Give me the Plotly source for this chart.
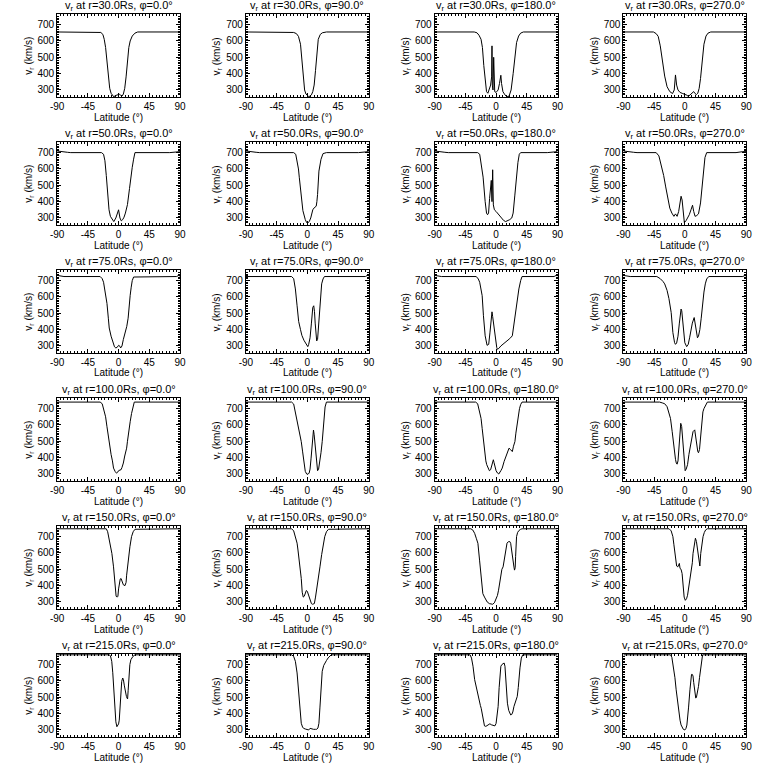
import plotly.graph_objects as go

radii = [30, 50, 75, 100, 150, 215]
phis = [0, 90, 180, 270]
xticks = [-90, -45, 0, 45, 90]
yticks = [300, 400, 500, 600, 700]

# ---- r = 30 Rs ----
lat_30_0 = [-90,-30,-26,-23,-21,-19,-17,-15,-13,-11,-9,-7,-5,-2,1,3,5,7,9,11,13,15,17,20,24,28,90]
v_30_0 = [655,655,652,640,610,560,470,380,310,280,265,258,265,272,274,268,262,275,310,380,470,560,600,630,648,655,655]
lat_30_90 = [-90,-24,-20,-16,-13,-10,-8,-6,-4,-2,0,2,4,6,8,10,12,14,16,19,22,28,90]
v_30_90 = [655,655,652,645,628,580,470,360,300,275,265,260,262,270,290,330,420,520,610,640,650,655,655]
lat_30_180 = [-90,-32,-28,-25,-22,-20,-18,-16,-14,-12,-10,-8,-6.5,-6,-5.5,-4.5,-3.5,-3,-2,0,3,5,6,7,8,10,13,16,19,22,25,28,30,33,36,40,90]
v_30_180 = [655,655,650,635,610,560,450,350,290,280,300,330,380,570,330,300,500,300,290,285,300,340,380,390,340,290,270,258,262,300,400,520,590,630,648,655,655]
lat_30_270 = [-90,-46,-42,-39,-36,-34,-32,-29.5,-26,-22,-18,-15.5,-13.7,-12,-10,-7,-3,0,3,5,8,11,13,15,17,19,21,23,25,28,31,34,38,90]
v_30_270 = [655,655,645,628,570,505,440,385,320,290,278,300,392,330,300,285,278,275,268,260,272,282,290,278,272,280,310,370,440,580,630,648,655,655]

# ---- r = 50 Rs ----
lat_50_0 = [-90,-85,-75,-70,-25,-22,-20,-18,-16,-14,-12,-9,-7,-4,-2,0,2,4,6,8,10,13,16,18,20,22,24,75,85,90]
v_50_0 = [710,706,702,700,700,690,650,560,430,350,310,285,278,300,330,350,300,282,290,305,330,382,480,560,610,660,700,700,706,706]
lat_50_90 = [-90,-85,-75,-70,-20,-17,-15,-13,-11.7,-9.4,-6.5,-3,-1,1,3,5,8,10,13,14,15,17,20,23,28,75,85,90]
v_50_90 = [710,706,702,700,700,690,650,600,546,450,345,290,272,270,280,300,350,362,372,400,444,587,659,694,700,700,706,706]
lat_50_180 = [-90,-85,-75,-70,-27,-24,-22,-19,-16,-14,-12.5,-11,-9.5,-8,-7,-6,-5,-4,-2.5,0,2,5,8,11,14,17,20,23,25,27.5,30,32,34,36,75,85,90]
v_50_180 = [710,706,702,700,700,690,630,550,400,330,320,330,420,470,530,400,595,380,350,340,330,310,295,285,278,282,290,300,330,440,560,640,690,700,700,706,706]
lat_50_270 = [-90,-85,-75,-70,-42,-38,-34,-31,-28,-25,-22,-19,-16,-13.7,-11.3,-9,-7,-5.5,-4,-2,-0.7,2,4,6.5,9,11.3,13,15,17.5,20,23,25,26.7,28,29.5,32,75,85,90]
v_50_270 = [710,706,702,700,700,680,620,560,490,420,360,330,310,325,310,340,390,433,410,320,272,285,300,320,350,378,340,310,315,325,392,470,546,610,670,700,700,706,706]

# ---- r = 75 Rs ----
lat_75_0 = [-90,-85,-80,-27,-24,-22,-19,-17,-15,-13.7,-11,-9,-6,-4,-2,0,2,3,5,7,10,12,14,15,17,18.5,20,22,85,88,90]
v_75_0 = [732,728,725,725,712,690,618,560,470,410,360,330,295,288,292,304,298,288,300,340,380,420,470,530,610,660,700,722,725,732,728]
lat_75_90 = [-90,-23,-20,-17.5,-15,-12.7,-10,-8,-5,-3,-1,0.7,2,4,6,8,9.4,10.5,11.5,12.5,13.7,15,16,17,18.5,20,21,23,25,85,88,90]
v_75_90 = [725,725,712,649,546,450,400,365,335,318,302,296,310,350,440,536,546,510,440,380,331,340,392,470,567,640,680,710,725,725,732,728]
lat_75_180 = [-90,-85,-80,-29,-26,-24,-22,-20.4,-18.5,-16,-13.2,-12,-10.8,-9,-7.4,-6,-5,-4,-2.5,-1,1,2,4,7,10,13,16.6,20,23.8,26,28.6,31,33.4,36,38,85,88,90]
v_75_180 = [732,728,725,725,710,690,650,608,485,362,304,306,310,380,444,509,480,444,380,330,290,280,285,300,310,320,330,345,362,430,505,580,649,700,725,725,732,728]
lat_75_270 = [-90,-85,-80,-41,-36,-32,-29.5,-26,-23.3,-20,-17.5,-15,-13.7,-12,-10,-8,-6.5,-5.5,-4.5,-3.5,-2,0,2.7,5,7,9,11,13.7,15,16.5,18.5,20,22,24,26,28,30,32,35,85,88,90]
v_75_270 = [732,728,725,725,712,695,680,640,590,505,382,320,310,318,360,440,510,526,515,480,400,320,296,310,350,400,440,474,440,380,350,360,400,470,560,630,680,710,725,725,732,728]

# ---- r = 100 Rs ----
lat_100_0 = [-90,-27,-24,-21.8,-19,-17,-15,-13.7,-11,-9,-7.4,-5,-3,-1.5,0,2,3.6,5,7,9,11.8,13,15,17,19,21,23,90]
v_100_0 = [740,740,730,690,650,589,530,478,420,380,336,315,305,310,320,324,326,340,367,410,458,500,579,620,670,710,740,740]
lat_100_90 = [-90,-23,-20,-17.5,-15,-12.7,-10,-8.9,-7,-5.5,-3,-1,1,2.7,4,5.5,7,8,9,10,11.3,12.5,13.7,15,16.5,18.5,20,21.8,23,24.7,26,28,90]
v_100_90 = [740,740,728,680,630,579,530,498,440,377,316,300,298,306,330,397,480,540,569,540,488,420,357,320,330,377,430,498,580,660,710,740,740]
lat_100_180 = [-90,-30,-27,-24,-22,-20.4,-18.5,-17,-15,-13.7,-11.5,-9.8,-8,-7.4,-5.5,-4,-3,-1.7,0,2,4,7,9,11.8,14,16.6,19,21,23.8,25.5,27.6,29,31,33,34.3,36,38,90]
v_100_180 = [740,740,730,680,640,579,500,437,380,357,330,320,326,336,360,387,370,347,320,306,300,320,336,377,400,427,458,450,437,470,498,550,619,670,700,725,740,740]
lat_100_270 = [-90,-37,-33,-29.5,-26,-23.3,-21,-18.5,-16.5,-15,-13.7,-12.5,-11.3,-10,-8.5,-7,-6,-4.6,-3,-1.5,0.5,2,4,6,9,12,14.5,16,17.5,19,20,21.5,23,24.7,26.5,28,30,33,90]
v_100_270 = [740,740,735,730,712,680,640,559,480,437,390,367,360,380,480,580,610,590,500,400,320,330,357,420,498,559,570,520,470,437,430,450,520,619,680,700,720,740,740]

# ---- r = 150 Rs ----
lat_150_0 = [-90,-18,-16,-14.6,-12,-9.8,-7.4,-5,-3.6,-2,-1,0,1.2,2.4,3.6,5,7,9.4,11,11.8,13,14.2,16.6,19,21.4,24,90]
v_150_0 = [748,748,730,700,650,597,515,392,335,330,335,380,413,440,444,430,405,400,420,464,520,556,638,700,730,745,748]
lat_150_90 = [-90,-23,-20,-17.5,-15,-13.7,-11.3,-8.9,-7.5,-6,-4.5,-3,-1.5,0,1.7,4,6,7.5,9,10.3,12,13.7,16,18.5,21,23.3,25.5,28,31,90]
v_150_90 = [748,748,735,700,660,618,536,444,360,330,335,350,370,365,341,310,290,286,286,290,330,372,440,515,590,659,700,730,745,748]
lat_150_180 = [-90,-37,-34,-31.4,-29,-26.6,-24.2,-21.8,-19.4,-17,-15.6,-13,-9.8,-7,-5,-2.5,-0.2,2,3.6,5.5,7,8.5,10.3,12,14.2,16,18,20,21.4,23,24.7,26,27,28,28.6,30,31.5,33.4,36,38,90]
v_150_180 = [748,748,740,720,690,659,556,433,351,330,320,300,290,286,286,295,315,340,372,420,464,500,515,560,628,660,669,670,659,600,556,520,495,510,577,700,725,737,745,748,748]
lat_150_270 = [-90,-23,-20,-17.5,-16,-15,-13.5,-12,-10.3,-9,-8,-7,-5.5,-4,-2.5,-1,0.7,2.5,4,6,9,11,12,14,15.5,17,19.5,21,22,23.3,25,26.7,28.5,30.5,33,90]
v_150_270 = [748,748,735,700,650,608,545,520,515,525,536,505,500,474,400,330,310,320,341,400,474,540,597,660,690,670,597,540,520,597,660,700,725,741,748,748]

# ---- r = 215 Rs ----
lat_215_0 = [-90,-14,-12,-10,-8.5,-7,-5.5,-4,-2.5,-1,0,1,2,3,4.6,6,7,8.5,10,11.5,12.5,13.2,14,15,16.5,18,21,24,90]
v_215_0 = [760,760,755,720,650,546,420,350,320,330,337,360,420,520,597,618,610,570,530,505,495,490,540,649,700,730,750,760,760]
lat_215_90 = [-90,-23,-20,-17.5,-15,-13.5,-11.7,-10,-8.9,-7,-5.5,-3,-0.7,2,4,6,9,12,13.7,15.5,17,18.5,20,21.8,24,25.7,28,30.5,33,35,90]
v_215_90 = [760,760,750,720,649,560,444,380,341,318,310,306,304,300,310,306,304,304,304,312,341,440,546,659,695,710,725,741,752,760,760]
lat_215_180 = [-90,-38,-36,-33.8,-31.4,-29,-27,-25,-23,-21.8,-20,-18.5,-17,-15,-13,-11,-9,-7,-5,-3,-1.7,0,1.5,3,4.5,5.5,7,8.4,10,11.8,13,14.5,16.6,18.5,21.4,23,24.5,26.2,28.5,31,32.5,33.4,35,37,39,90]
v_215_180 = [760,760,740,690,608,560,520,474,450,433,390,350,325,322,328,335,338,332,328,325,325,340,380,444,560,650,690,700,706,710,690,600,464,420,392,395,410,444,470,505,560,608,680,740,760,760]
lat_215_270 = [-90,-21,-19,-16.6,-14.5,-12.7,-10.5,-8.9,-7,-5.5,-3.5,-2.2,0,1.7,3,4,5.5,7.5,8.5,9.8,11,12,13,14.6,16,17,18.5,20,21.5,23.3,25,26,90]
v_215_270 = [760,760,745,690,620,546,460,403,360,331,310,304,300,310,330,362,440,546,610,640,640,630,590,515,495,500,530,567,620,690,740,760,760]

panels = [
    [(lat_30_0, v_30_0), (lat_30_90, v_30_90), (lat_30_180, v_30_180), (lat_30_270, v_30_270)],
    [(lat_50_0, v_50_0), (lat_50_90, v_50_90), (lat_50_180, v_50_180), (lat_50_270, v_50_270)],
    [(lat_75_0, v_75_0), (lat_75_90, v_75_90), (lat_75_180, v_75_180), (lat_75_270, v_75_270)],
    [(lat_100_0, v_100_0), (lat_100_90, v_100_90), (lat_100_180, v_100_180), (lat_100_270, v_100_270)],
    [(lat_150_0, v_150_0), (lat_150_90, v_150_90), (lat_150_180, v_150_180), (lat_150_270, v_150_270)],
    [(lat_215_0, v_215_0), (lat_215_90, v_215_90), (lat_215_180, v_215_180), (lat_215_270, v_215_270)],
]

W = H = 768
FONT = "Liberation Sans"
fig = go.Figure()
annotations = []
layout_axes = {}

for ri, r in enumerate(radii):
    for ci, phi in enumerate(phis):
        k = ri * 4 + ci + 1
        suffix = "" if k == 1 else str(k)
        lat, v = panels[ri][ci]
        fig.add_trace(go.Scatter(
            x=lat, y=v, mode="lines",
            line=dict(color="black", width=1),
            xaxis="x" + suffix, yaxis="y" + suffix,
            showlegend=False, hoverinfo="skip"))
        px0, px1 = ci * 192 + 51, ci * 192 + 176
        py0, py1 = ri * 128 + 14, ri * 128 + 97
        x0, x1 = px0 / W, px1 / W
        y0, y1 = 1 - py1 / H, 1 - py0 / H
        common = dict(showline=True, linecolor="black", linewidth=1, mirror="allticks",
                      ticks="inside", ticklen=4, tickcolor="black", tickwidth=1,
                      showgrid=False, zeroline=False,
                      tickfont=dict(family=FONT, size=10, color="black"))
        layout_axes["xaxis" + suffix] = dict(
            common, domain=[x0, x1], anchor="y" + suffix, range=[-90, 90],
            tickmode="array", tickvals=xticks, ticktext=[str(t) for t in xticks],
            minor=dict(ticks="inside", ticklen=2, dtick=5, tickcolor="black"))
        layout_axes["yaxis" + suffix] = dict(
            common, domain=[y0, y1], anchor="x" + suffix, range=[257, 765],
            tickmode="array", tickvals=yticks, ticktext=[str(t) for t in yticks],
            minor=dict(ticks="inside", ticklen=2, dtick=10, tickcolor="black"))
        annotations.append(dict(
            text=f"v<sub>r</sub> at r={r:.1f}Rs, φ={phi:.1f}°",
            x=(x0 + x1) / 2, y=1 - (ri * 128 + 6) / H, xref="paper", yref="paper",
            xanchor="center", yanchor="middle", showarrow=False,
            font=dict(family=FONT, size=11, color="black")))
        annotations.append(dict(
            text="Latitude (°)",
            x=(x0 + x1) / 2, y=1 - (ri * 128 + 117) / H, xref="paper", yref="paper",
            xanchor="center", yanchor="middle", showarrow=False,
            font=dict(family=FONT, size=10, color="black")))
        annotations.append(dict(
            text="v<sub>r</sub> (km/s)", textangle=-90,
            x=(ci * 192 + 22) / W, y=1 - (ri * 128 + 56) / H, xref="paper", yref="paper",
            xanchor="center", yanchor="middle", showarrow=False,
            font=dict(family=FONT, size=10, color="black")))

fig.update_layout(
    width=W, height=H, margin=dict(l=0, r=0, t=0, b=0),
    paper_bgcolor="white", plot_bgcolor="white",
    annotations=annotations, **layout_axes)

fig.write_html("out.html", config={"displayModeBar": False},
               post_script="document.body.style.margin='0';document.body.style.overflow='hidden';")
